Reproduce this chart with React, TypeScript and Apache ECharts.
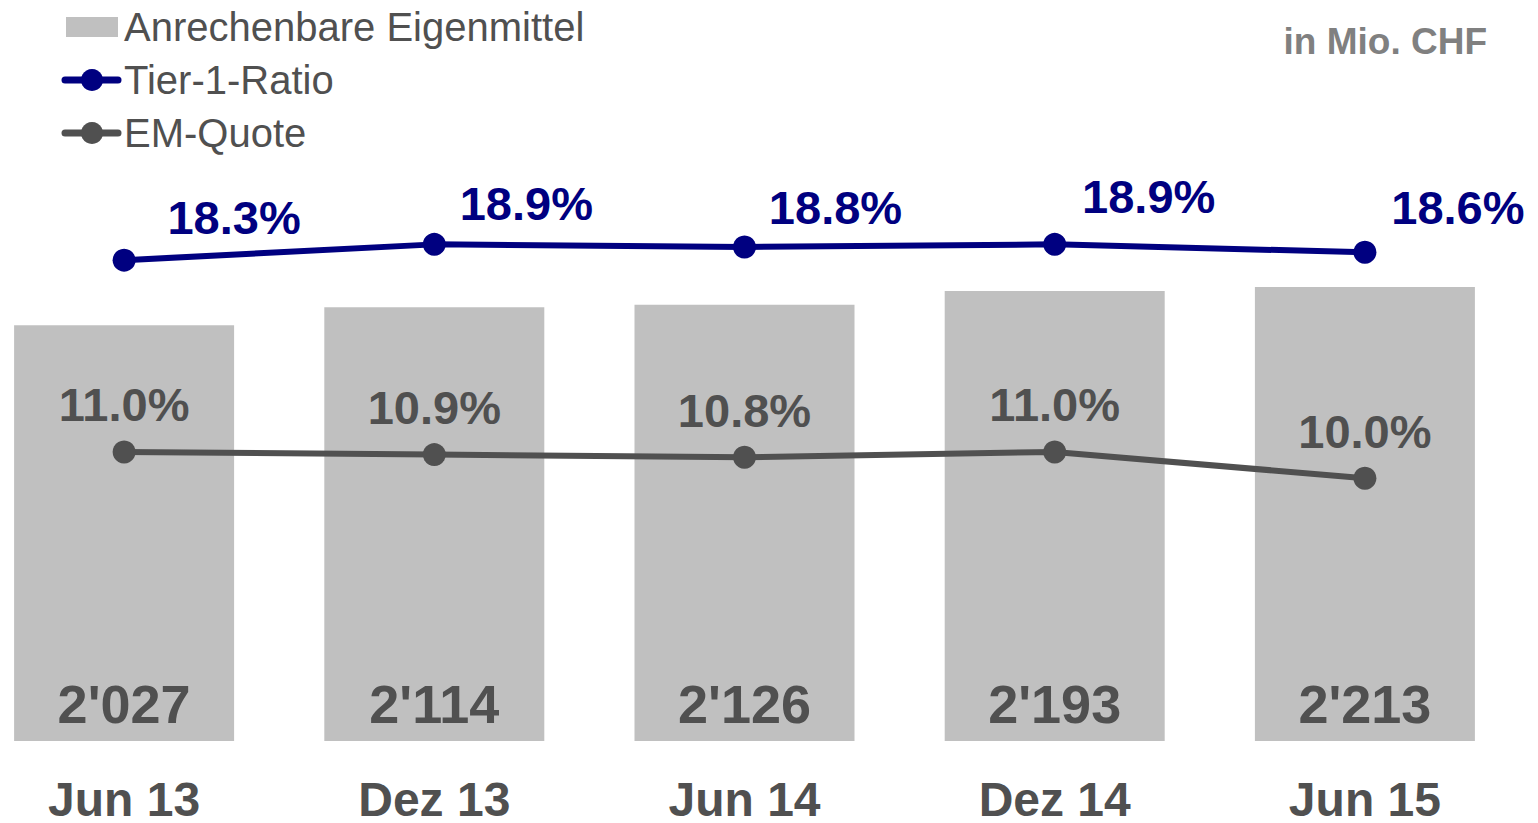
import React, { useEffect, useRef } from "react";
import * as echarts from "echarts";

const categories = ["Jun 13", "Dez 13", "Jun 14", "Dez 14", "Jun 15"];
const eigenmittel = [2027, 2114, 2126, 2193, 2213];
const tier1Ratio = [18.3, 18.9, 18.8, 18.9, 18.6];
const emQuote = [11.0, 10.9, 10.8, 11.0, 10.0];
const legendNames = ["Anrechenbare Eigenmittel", "Tier-1-Ratio", "EM-Quote"];
const tierLabelOffsets = [
  [110, 0],
  [92, 2],
  [91, 3],
  [94, -5],
  [93, -2],
];

const FONT = "'Liberation Sans', Arial, Helvetica, sans-serif";
const DARK = "#505050";
const NAVY = "#000080";
const BAR = "#C0C0C0";
const SHIFT = 31; // container starts SHIFT px left of the page

function fmtThousands(v: number) {
  const s = String(v);
  return s.length > 3 ? s.slice(0, s.length - 3) + "'" + s.slice(-3) : s;
}

function legendGraphics() {
  const rows = [27, 80, 133];
  const colors = [BAR, NAVY, DARK];
  const els: any[] = [];
  legendNames.forEach((name, i) => {
    const y = rows[i];
    if (i === 0) {
      els.push({ type: "rect", shape: { x: 66 + SHIFT, y: y - 10, width: 52, height: 20 }, style: { fill: colors[i] } });
    } else {
      els.push({
        type: "line",
        shape: { x1: 65 + SHIFT, y1: y, x2: 118 + SHIFT, y2: y },
        style: { stroke: colors[i], lineWidth: 7, lineCap: "round" },
      });
      els.push({ type: "circle", shape: { cx: 92 + SHIFT, cy: y, r: 11 }, style: { fill: colors[i] } });
    }
    els.push({
      type: "text",
      x: 124 + SHIFT,
      y,
      style: {
        text: name,
        fontSize: 40,
        fill: DARK,
        fontFamily: FONT,
        verticalAlign: "middle",
        align: "left",
      },
    });
  });
  return els;
}

export default function App() {
  const ref = useRef<HTMLDivElement>(null);
  useEffect(() => {
    if (!ref.current) return;
    const chart = echarts.init(ref.current, null, { renderer: "svg" });
    chart.setOption({
      animation: false,
      backgroundColor: "#ffffff",
      textStyle: { fontFamily: FONT },
      legend: { show: false, data: legendNames },
      graphic: [
        ...legendGraphics(),
        {
          type: "text",
          right: 51,
          top: 23,
          style: {
            text: "in Mio. CHF",
            fontSize: 37,
            fontWeight: "bold",
            fill: "#808080",
            fontFamily: FONT,
          },
        },
      ],
      grid: { left: 0, right: 18, top: 0, bottom: 80 },
      xAxis: {
        type: "category",
        data: categories,
        axisLine: { show: false },
        axisTick: { show: false },
        axisLabel: {
          margin: 38,
          fontSize: 48,
          lineHeight: 40,
          fontWeight: "bold",
          color: DARK,
          fontFamily: FONT,
        },
      },
      yAxis: [
        { type: "value", min: 0, max: 3612, show: false, splitLine: { show: false } },
        { type: "value", min: 0, max: 28.2, show: false, splitLine: { show: false } },
      ],
      series: [
        {
          name: "Anrechenbare Eigenmittel",
          type: "bar",
          data: eigenmittel,
          barWidth: 220,
          itemStyle: { color: BAR },
          label: {
            show: true,
            position: "insideBottom",
            distance: 10,
            fontSize: 54,
            fontWeight: "bold",
            color: DARK,
            fontFamily: FONT,
            formatter: (p: any) => fmtThousands(p.value),
          },
        },
        {
          name: "EM-Quote",
          type: "line",
          yAxisIndex: 1,
          data: emQuote,
          symbol: "circle",
          symbolSize: 23,
          lineStyle: { color: DARK, width: 6 },
          itemStyle: { color: DARK },
          label: {
            show: true,
            position: "top",
            distance: 12,
            fontSize: 47,
            fontWeight: "bold",
            color: DARK,
            fontFamily: FONT,
            formatter: (p: any) => p.value.toFixed(1) + "%",
          },
        },
        {
          name: "Tier-1-Ratio",
          type: "line",
          yAxisIndex: 1,
          data: tier1Ratio.map((v, i) => ({
            value: v,
            label: { offset: tierLabelOffsets[i] },
          })),
          symbol: "circle",
          symbolSize: 23,
          lineStyle: { color: NAVY, width: 6 },
          itemStyle: { color: NAVY },
          label: {
            show: true,
            position: "top",
            distance: 8,
            fontSize: 47,
            fontWeight: "bold",
            color: NAVY,
            fontFamily: FONT,
            formatter: (p: any) => p.value.toFixed(1) + "%",
          },
        },
      ],
    });
    return () => chart.dispose();
  }, []);
  return (
    <div
      ref={ref}
      style={{ position: "absolute", left: -SHIFT, top: 0, width: 1538 + SHIFT, height: 823 }}
    />
  );
}
